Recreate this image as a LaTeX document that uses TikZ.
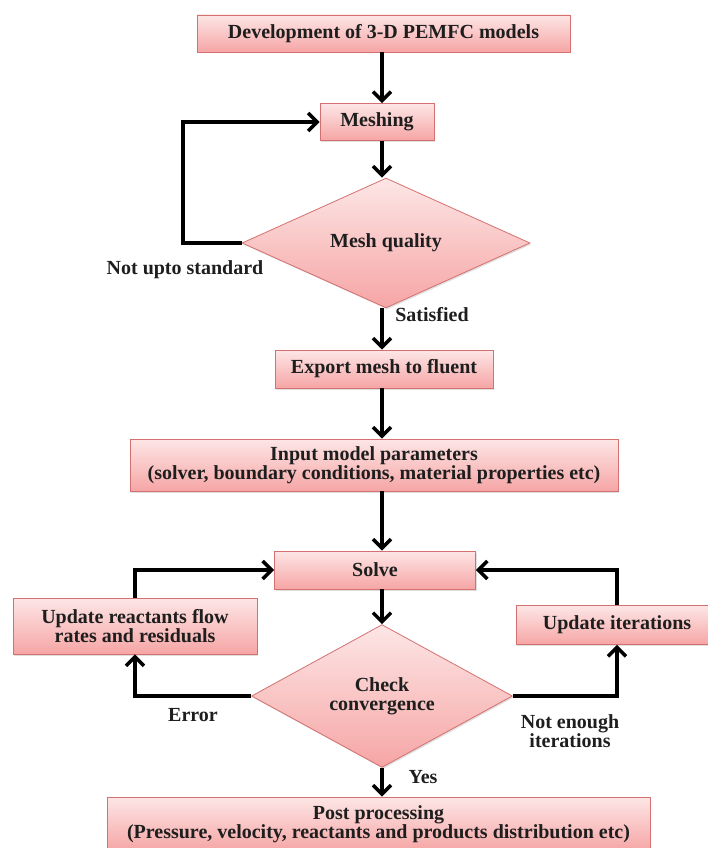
\documentclass[tikz,border=0pt]{standalone}
\usepackage{fontspec}
\setmainfont{Liberation Serif}
\usetikzlibrary{arrows.meta,shapes.geometric,shadows}
\definecolor{pinktop}{RGB}{253,230,230}
\definecolor{pinkbot}{RGB}{246,165,165}
\definecolor{pinkline}{RGB}{212,112,112}
\definecolor{ink}{RGB}{30,30,30}
\begin{document}
\begin{tikzpicture}[x=1pt,y=-1pt,
 box/.style={draw=pinkline, line width=0.8pt, top color=pinktop, bottom color=pinkbot,
   text=ink, font=\bfseries\fontsize{20}{19}\selectfont, align=center, inner sep=0pt,
   drop shadow={shadow xshift=1.2pt, shadow yshift=-1.5pt, opacity=0.25}},
 dia/.style={box, shape=diamond},
 lab/.style={text=ink, font=\bfseries\fontsize{20}{19}\selectfont, align=center},
 arr/.style={line width=3.5pt, -{Straight Barb[length=9pt,width=18pt,line width=3.5pt]}}]
\useasboundingbox (0,0) rectangle (708,848);
\coordinate (ax) at (382,0);
\coordinate (lx) at (183,0);

\node[box, minimum width=373pt, minimum height=37pt] (dev) at (383.5,33.5) {Development of 3-D PEMFC models};
\node[box, minimum width=114pt, minimum height=37pt] (mesh) at (377,122) {Meshing};
\node[dia, minimum width=288pt, minimum height=100pt] (mq) at (386,243) {Mesh quality};
\node[box, minimum width=218pt, minimum height=38pt] (exp) at (384,369) {Export mesh to fluent};
\node[box, minimum width=488pt, minimum height=52pt] (inp) at (374,465) {Input model parameters\\(solver, boundary conditions, material properties etc)};
\node[box, minimum width=201pt, minimum height=38pt] (solve) at (375,570) {Solve};
\node[box, minimum width=244pt, minimum height=56pt] (upr) at (135,626) {Update reactants flow\\rates and residuals};
\node[box, minimum width=202pt, minimum height=39pt] (upi) at (617,625) {Update iterations};
\node[dia, minimum width=261pt, minimum height=106pt] (cc) at (382,696) {Check\\convergence};
\node[box, minimum width=543pt, minimum height=54pt] (post) at (378.5,824) {Post processing\\(Pressure, velocity, reactants and products distribution etc)};

\draw[arr] (dev.south -| ax) -- (mesh.north -| ax);
\draw[arr] (mesh.south -| ax) -- (mq.north -| ax);
\draw[arr] (mq.west) -- (mq.west -| lx) |- (mesh.west);
\draw[arr] (mq.south -| ax) -- (exp.north -| ax);
\draw[arr] (exp.south -| ax) -- (inp.north -| ax);
\draw[arr] (inp.south -| ax) -- (solve.north -| ax);
\draw[arr] (solve.south -| ax) -- (cc.north);
\draw[arr] (cc.west) -| (upr.south);
\draw[arr] (upr.north) |- (solve.west);
\draw[arr] (cc.east) -| (upi.south);
\draw[arr] (upi.north) |- (solve.east);
\draw[arr] (cc.south) -- (post.north -| cc.south);

\node[lab] (l1) at (185,270) {Not upto standard};
\node[lab] (l2) at (432,315) {Satisfied};
\node[lab] (l3) at (193,715) {Error};
\node[lab] (l4) at (570,731) {Not enough\\iterations};
\node[lab] (l5) at (423,777) {Yes};
\end{tikzpicture}
\end{document}
